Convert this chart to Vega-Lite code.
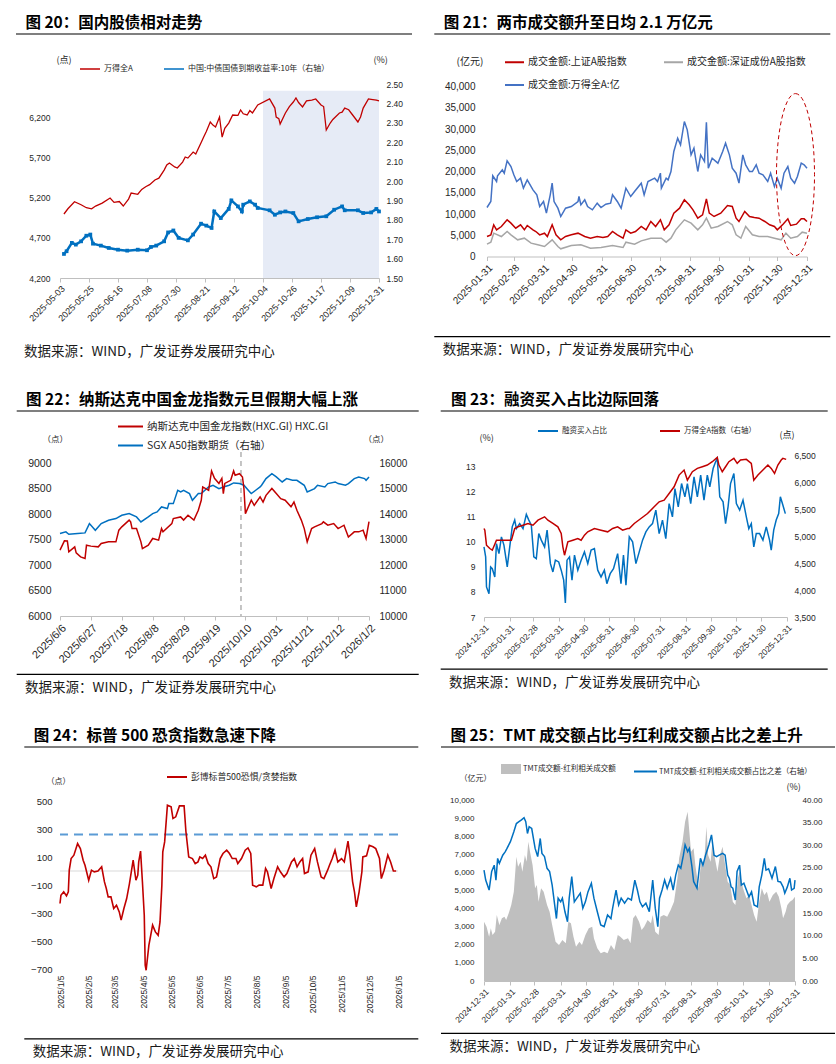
{
"$schema":"https://vega.github.io/schema/vega-lite/v6.json",
"background":"white",
"padding":{"left":15,"top":15,"right":4,"bottom":2},
"config":{
 "view":{"stroke":null},
 "font":"Liberation Sans, Noto Sans CJK SC",
 "axis":{"grid":false,"labelOverlap":false,"tickCount":30,"labelColor":"#262626","labelFont":"Liberation Sans, Noto Sans CJK SC","domainColor":"#BFBFBF","tickColor":"#BFBFBF","titleFont":"Noto Sans CJK SC","titleFontWeight":"normal","titleColor":"#262626"},
 "legend":{"labelFont":"Noto Sans CJK SC","labelColor":"#262626","padding":0,"orient":"none","title":null,"labelLimit":400},
 "title":{"font":"Noto Sans CJK SC","color":"#000000"}
},
"datasets":{
 "p20a":[{"d":"2025-05-06","v":4995},{"d":"2025-05-09","v":5060},{"d":"2025-05-14","v":5148},{"d":"2025-05-19","v":5110},{"d":"2025-05-23","v":5073},{"d":"2025-05-27","v":5060},{"d":"2025-05-30","v":5094},{"d":"2025-06-04","v":5130},{"d":"2025-06-10","v":5194},{"d":"2025-06-13","v":5140},{"d":"2025-06-17","v":5150},{"d":"2025-06-20","v":5094},{"d":"2025-06-24","v":5180},{"d":"2025-06-26","v":5256},{"d":"2025-07-01","v":5240},{"d":"2025-07-04","v":5300},{"d":"2025-07-07","v":5334},{"d":"2025-07-10","v":5360},{"d":"2025-07-14","v":5417},{"d":"2025-07-17","v":5440},{"d":"2025-07-21","v":5541},{"d":"2025-07-23","v":5604},{"d":"2025-07-25","v":5628},{"d":"2025-07-29","v":5580},{"d":"2025-07-31","v":5566},{"d":"2025-08-04","v":5640},{"d":"2025-08-06","v":5703},{"d":"2025-08-08","v":5690},{"d":"2025-08-12","v":5765},{"d":"2025-08-14","v":5740},{"d":"2025-08-18","v":5880},{"d":"2025-08-20","v":5951},{"d":"2025-08-22","v":6020},{"d":"2025-08-25","v":6138},{"d":"2025-08-27","v":6100},{"d":"2025-08-29","v":6076},{"d":"2025-09-01","v":6200},{"d":"2025-09-03","v":5951},{"d":"2025-09-05","v":6060},{"d":"2025-09-08","v":6125},{"d":"2025-09-11","v":6225},{"d":"2025-09-15","v":6220},{"d":"2025-09-17","v":6287},{"d":"2025-09-19","v":6240},{"d":"2025-09-22","v":6225},{"d":"2025-09-24","v":6280},{"d":"2025-09-26","v":6250},{"d":"2025-09-30","v":6349},{"d":"2025-10-09","v":6424},{"d":"2025-10-13","v":6311},{"d":"2025-10-14","v":6200},{"d":"2025-10-16","v":6180},{"d":"2025-10-17","v":6113},{"d":"2025-10-21","v":6250},{"d":"2025-10-24","v":6330},{"d":"2025-10-27","v":6386},{"d":"2025-10-29","v":6436},{"d":"2025-10-31","v":6380},{"d":"2025-11-03","v":6325},{"d":"2025-11-06","v":6400},{"d":"2025-11-10","v":6411},{"d":"2025-11-13","v":6424},{"d":"2025-11-17","v":6349},{"d":"2025-11-19","v":6330},{"d":"2025-11-21","v":6038},{"d":"2025-11-24","v":6125},{"d":"2025-11-26","v":6170},{"d":"2025-12-01","v":6250},{"d":"2025-12-03","v":6260},{"d":"2025-12-05","v":6311},{"d":"2025-12-08","v":6290},{"d":"2025-12-11","v":6225},{"d":"2025-12-15","v":6138},{"d":"2025-12-17","v":6200},{"d":"2025-12-19","v":6311},{"d":"2025-12-23","v":6424},{"d":"2025-12-25","v":6420},{"d":"2025-12-29","v":6411},{"d":"2025-12-31","v":6400}],
 "p20b":[{"d":"2025-05-06","v":1.624},{"d":"2025-05-08","v":1.638},{"d":"2025-05-12","v":1.681},{"d":"2025-05-15","v":1.672},{"d":"2025-05-19","v":1.689},{"d":"2025-05-23","v":1.718},{"d":"2025-05-26","v":1.724},{"d":"2025-05-28","v":1.677},{"d":"2025-06-03","v":1.667},{"d":"2025-06-09","v":1.655},{"d":"2025-06-16","v":1.646},{"d":"2025-06-23","v":1.641},{"d":"2025-07-01","v":1.646},{"d":"2025-07-08","v":1.643},{"d":"2025-07-11","v":1.66},{"d":"2025-07-15","v":1.667},{"d":"2025-07-21","v":1.689},{"d":"2025-07-24","v":1.735},{"d":"2025-07-28","v":1.745},{"d":"2025-08-01","v":1.707},{"d":"2025-08-08","v":1.694},{"d":"2025-08-12","v":1.724},{"d":"2025-08-18","v":1.78},{"d":"2025-08-22","v":1.77},{"d":"2025-08-26","v":1.758},{"d":"2025-08-28","v":1.843},{"d":"2025-09-02","v":1.809},{"d":"2025-09-08","v":1.856},{"d":"2025-09-10","v":1.9},{"d":"2025-09-15","v":1.869},{"d":"2025-09-18","v":1.843},{"d":"2025-09-19","v":1.878},{"d":"2025-09-24","v":1.895},{"d":"2025-09-28","v":1.878},{"d":"2025-09-30","v":1.861},{"d":"2025-10-09","v":1.849},{"d":"2025-10-13","v":1.826},{"d":"2025-10-17","v":1.838},{"d":"2025-10-21","v":1.843},{"d":"2025-10-27","v":1.835},{"d":"2025-10-31","v":1.792},{"d":"2025-11-07","v":1.804},{"d":"2025-11-14","v":1.813},{"d":"2025-11-21","v":1.818},{"d":"2025-11-27","v":1.852},{"d":"2025-12-03","v":1.869},{"d":"2025-12-05","v":1.849},{"d":"2025-12-15","v":1.849},{"d":"2025-12-19","v":1.835},{"d":"2025-12-25","v":1.838},{"d":"2025-12-29","v":1.856},{"d":"2025-12-31","v":1.843}],
 "p21b":[{"d":"2025-01-31","v":11529},{"d":"2025-02-04","v":12941},{"d":"2025-02-06","v":19000},{"d":"2025-02-10","v":17647},{"d":"2025-02-11","v":19000},{"d":"2025-02-16","v":20390},{"d":"2025-02-18","v":19600},{"d":"2025-02-21","v":22500},{"d":"2025-02-25","v":21170},{"d":"2025-02-28","v":19215},{"d":"2025-03-03","v":17647},{"d":"2025-03-07","v":18430},{"d":"2025-03-10","v":16078},{"d":"2025-03-14","v":18040},{"d":"2025-03-20","v":15686},{"d":"2025-03-24","v":14510},{"d":"2025-03-27","v":11765},{"d":"2025-03-31","v":12941},{"d":"2025-04-03","v":10196},{"d":"2025-04-07","v":14510},{"d":"2025-04-09","v":17255},{"d":"2025-04-11","v":12941},{"d":"2025-04-15","v":11373},{"d":"2025-04-18","v":9412},{"d":"2025-04-23","v":11373},{"d":"2025-04-29","v":11765},{"d":"2025-05-06","v":12941},{"d":"2025-05-07","v":14118},{"d":"2025-05-09","v":12157},{"d":"2025-05-13","v":13333},{"d":"2025-05-16","v":11765},{"d":"2025-05-21","v":10980},{"d":"2025-05-26","v":12549},{"d":"2025-05-30","v":11529},{"d":"2025-06-04","v":12313},{"d":"2025-06-09","v":12549},{"d":"2025-06-11","v":14510},{"d":"2025-06-16","v":12941},{"d":"2025-06-20","v":11373},{"d":"2025-06-25","v":16078},{"d":"2025-06-30","v":14118},{"d":"2025-07-04","v":15294},{"d":"2025-07-11","v":17255},{"d":"2025-07-14","v":14510},{"d":"2025-07-18","v":17647},{"d":"2025-07-25","v":18431},{"d":"2025-07-28","v":17647},{"d":"2025-07-31","v":19607},{"d":"2025-08-01","v":16078},{"d":"2025-08-06","v":18431},{"d":"2025-08-08","v":18039},{"d":"2025-08-11","v":20000},{"d":"2025-08-14","v":24706},{"d":"2025-08-18","v":27843},{"d":"2025-08-21","v":26274},{"d":"2025-08-25","v":31765},{"d":"2025-08-28","v":29804},{"d":"2025-09-01","v":23921},{"d":"2025-09-04","v":25490},{"d":"2025-09-08","v":20000},{"d":"2025-09-11","v":23921},{"d":"2025-09-15","v":22353},{"d":"2025-09-17","v":31608},{"d":"2025-09-19","v":20784},{"d":"2025-09-23","v":23137},{"d":"2025-09-29","v":21961},{"d":"2025-10-04","v":24706},{"d":"2025-10-07","v":26667},{"d":"2025-10-11","v":23921},{"d":"2025-10-14","v":20784},{"d":"2025-10-18","v":19600},{"d":"2025-10-21","v":17255},{"d":"2025-10-25","v":23921},{"d":"2025-10-28","v":21569},{"d":"2025-11-01","v":20000},{"d":"2025-11-04","v":20000},{"d":"2025-11-08","v":21569},{"d":"2025-11-11","v":19608},{"d":"2025-11-15","v":19215},{"d":"2025-11-20","v":17647},{"d":"2025-11-23","v":19608},{"d":"2025-11-27","v":16471},{"d":"2025-11-30","v":18431},{"d":"2025-12-04","v":16078},{"d":"2025-12-07","v":19608},{"d":"2025-12-11","v":21176},{"d":"2025-12-14","v":18431},{"d":"2025-12-18","v":17255},{"d":"2025-12-21","v":18823},{"d":"2025-12-25","v":21961},{"d":"2025-12-28","v":21569},{"d":"2025-12-31","v":20784}],
 "p21r":[{"d":"2025-01-31","v":4706},{"d":"2025-02-04","v":5098},{"d":"2025-02-07","v":7451},{"d":"2025-02-10","v":6275},{"d":"2025-02-15","v":7059},{"d":"2025-02-21","v":8627},{"d":"2025-02-25","v":7843},{"d":"2025-03-02","v":6667},{"d":"2025-03-07","v":7451},{"d":"2025-03-11","v":6275},{"d":"2025-03-14","v":7294},{"d":"2025-03-20","v":6275},{"d":"2025-03-23","v":5882},{"d":"2025-03-27","v":5098},{"d":"2025-04-01","v":5490},{"d":"2025-04-04","v":4706},{"d":"2025-04-09","v":7451},{"d":"2025-04-13","v":5098},{"d":"2025-04-18","v":3921},{"d":"2025-04-23","v":4706},{"d":"2025-04-29","v":5098},{"d":"2025-05-06","v":5490},{"d":"2025-05-13","v":4706},{"d":"2025-05-19","v":4314},{"d":"2025-05-26","v":4706},{"d":"2025-06-01","v":4470},{"d":"2025-06-06","v":4706},{"d":"2025-06-11","v":5882},{"d":"2025-06-16","v":5098},{"d":"2025-06-22","v":4314},{"d":"2025-06-25","v":6275},{"d":"2025-06-30","v":5490},{"d":"2025-07-05","v":5882},{"d":"2025-07-11","v":7059},{"d":"2025-07-16","v":6275},{"d":"2025-07-21","v":8235},{"d":"2025-07-26","v":7059},{"d":"2025-07-31","v":8627},{"d":"2025-08-04","v":6275},{"d":"2025-08-09","v":7451},{"d":"2025-08-14","v":10196},{"d":"2025-08-20","v":11373},{"d":"2025-08-25","v":13333},{"d":"2025-08-30","v":12157},{"d":"2025-09-03","v":10980},{"d":"2025-09-08","v":9020},{"d":"2025-09-13","v":9804},{"d":"2025-09-17","v":13569},{"d":"2025-09-20","v":10196},{"d":"2025-09-25","v":9412},{"d":"2025-10-02","v":10196},{"d":"2025-10-09","v":12000},{"d":"2025-10-14","v":11765},{"d":"2025-10-18","v":9020},{"d":"2025-10-21","v":8235},{"d":"2025-10-27","v":10588},{"d":"2025-11-01","v":9412},{"d":"2025-11-06","v":9176},{"d":"2025-11-11","v":9020},{"d":"2025-11-17","v":8235},{"d":"2025-11-22","v":7451},{"d":"2025-11-27","v":7059},{"d":"2025-11-30","v":6275},{"d":"2025-12-06","v":7608},{"d":"2025-12-11","v":8863},{"d":"2025-12-14","v":7294},{"d":"2025-12-20","v":7608},{"d":"2025-12-25","v":8863},{"d":"2025-12-28","v":8863},{"d":"2025-12-31","v":8235}],
 "p21g":[{"d":"2025-01-31","v":2902},{"d":"2025-02-04","v":3372},{"d":"2025-02-07","v":5490},{"d":"2025-02-15","v":4706},{"d":"2025-02-21","v":5882},{"d":"2025-02-25","v":5098},{"d":"2025-03-04","v":3921},{"d":"2025-03-11","v":4314},{"d":"2025-03-18","v":3137},{"d":"2025-03-25","v":2745},{"d":"2025-04-01","v":2353},{"d":"2025-04-09","v":3921},{"d":"2025-04-15","v":2353},{"d":"2025-04-18","v":1804},{"d":"2025-04-29","v":2588},{"d":"2025-05-09","v":2745},{"d":"2025-05-19","v":1961},{"d":"2025-05-30","v":2118},{"d":"2025-06-11","v":2588},{"d":"2025-06-22","v":2118},{"d":"2025-06-25","v":3372},{"d":"2025-07-04","v":2902},{"d":"2025-07-11","v":3686},{"d":"2025-07-21","v":4314},{"d":"2025-08-01","v":4314},{"d":"2025-08-06","v":3372},{"d":"2025-08-11","v":4314},{"d":"2025-08-16","v":6275},{"d":"2025-08-25","v":8627},{"d":"2025-09-01","v":7843},{"d":"2025-09-08","v":6275},{"d":"2025-09-13","v":7451},{"d":"2025-09-17","v":9020},{"d":"2025-09-22","v":6667},{"d":"2025-09-29","v":7059},{"d":"2025-10-09","v":8235},{"d":"2025-10-14","v":7451},{"d":"2025-10-18","v":5098},{"d":"2025-10-23","v":4314},{"d":"2025-10-28","v":7059},{"d":"2025-11-04","v":5098},{"d":"2025-11-11","v":4706},{"d":"2025-11-20","v":4706},{"d":"2025-11-27","v":4314},{"d":"2025-12-04","v":3921},{"d":"2025-12-09","v":5490},{"d":"2025-12-14","v":4314},{"d":"2025-12-21","v":4706},{"d":"2025-12-26","v":5725},{"d":"2025-12-31","v":5490}],
 "p22r":[{"d":"2025-06-06","v":7292},{"d":"2025-06-09","v":7474},{"d":"2025-06-11","v":7470},{"d":"2025-06-12","v":7258},{"d":"2025-06-16","v":7356},{"d":"2025-06-17","v":7238},{"d":"2025-06-20","v":7160},{"d":"2025-06-23","v":7127},{"d":"2025-06-24","v":7389},{"d":"2025-06-27","v":7370},{"d":"2025-07-02","v":7356},{"d":"2025-07-04","v":7422},{"d":"2025-07-09","v":7454},{"d":"2025-07-14","v":7454},{"d":"2025-07-16","v":7683},{"d":"2025-07-18","v":7748},{"d":"2025-07-23","v":7879},{"d":"2025-07-24","v":7846},{"d":"2025-07-25","v":7714},{"d":"2025-07-28","v":7715},{"d":"2025-07-31","v":7454},{"d":"2025-08-01","v":7323},{"d":"2025-08-05","v":7389},{"d":"2025-08-08","v":7520},{"d":"2025-08-12","v":7487},{"d":"2025-08-14","v":7714},{"d":"2025-08-15","v":7650},{"d":"2025-08-21","v":7812},{"d":"2025-08-22","v":7910},{"d":"2025-08-27","v":7943},{"d":"2025-08-29","v":7880},{"d":"2025-09-01","v":7976},{"d":"2025-09-05","v":7880},{"d":"2025-09-08","v":8074},{"d":"2025-09-10","v":8270},{"d":"2025-09-11","v":8530},{"d":"2025-09-15","v":8465},{"d":"2025-09-17","v":8843},{"d":"2025-09-19","v":8700},{"d":"2025-09-22","v":8600},{"d":"2025-09-24","v":8700},{"d":"2025-09-25","v":8400},{"d":"2025-09-26","v":8600},{"d":"2025-09-30","v":8660},{"d":"2025-10-02","v":8843},{"d":"2025-10-03","v":8760},{"d":"2025-10-06","v":8790},{"d":"2025-10-08","v":8725},{"d":"2025-10-09","v":8500},{"d":"2025-10-10","v":8008},{"d":"2025-10-14","v":8270},{"d":"2025-10-16","v":8170},{"d":"2025-10-20","v":8335},{"d":"2025-10-22","v":8235},{"d":"2025-10-24","v":8365},{"d":"2025-10-28","v":8500},{"d":"2025-10-31","v":8400},{"d":"2025-11-03","v":8300},{"d":"2025-11-06","v":8270},{"d":"2025-11-10","v":8140},{"d":"2025-11-12","v":8235},{"d":"2025-11-14","v":8074},{"d":"2025-11-17","v":7880},{"d":"2025-11-19","v":7714},{"d":"2025-11-21","v":7454},{"d":"2025-11-24","v":7715},{"d":"2025-11-26","v":7747},{"d":"2025-12-01","v":7812},{"d":"2025-12-02","v":7846},{"d":"2025-12-05","v":7780},{"d":"2025-12-09","v":7812},{"d":"2025-12-12","v":7714},{"d":"2025-12-16","v":7780},{"d":"2025-12-19","v":7550},{"d":"2025-12-23","v":7650},{"d":"2025-12-26","v":7650},{"d":"2025-12-29","v":7683},{"d":"2025-12-31","v":7520},{"d":"2026-01-02","v":7850}],
 "p22b":[{"d":"2025-06-06","v":13233},{"d":"2025-06-10","v":13298},{"d":"2025-06-12","v":13206},{"d":"2025-06-18","v":13233},{"d":"2025-06-23","v":13259},{"d":"2025-06-26","v":13624},{"d":"2025-06-30","v":13363},{"d":"2025-07-04","v":13624},{"d":"2025-07-09","v":13755},{"d":"2025-07-14","v":13820},{"d":"2025-07-18","v":13950},{"d":"2025-07-23","v":14016},{"d":"2025-07-28","v":13885},{"d":"2025-07-31","v":13690},{"d":"2025-08-05","v":13885},{"d":"2025-08-08","v":14016},{"d":"2025-08-11","v":14081},{"d":"2025-08-14","v":14277},{"d":"2025-08-18","v":14212},{"d":"2025-08-19","v":14407},{"d":"2025-08-22","v":14407},{"d":"2025-08-25","v":14931},{"d":"2025-08-27","v":14866},{"d":"2025-08-29","v":14931},{"d":"2025-09-02","v":14800},{"d":"2025-09-04","v":14538},{"d":"2025-09-08","v":14800},{"d":"2025-09-10","v":14800},{"d":"2025-09-15","v":15060},{"d":"2025-09-18","v":15127},{"d":"2025-09-22","v":14996},{"d":"2025-09-25","v":15060},{"d":"2025-09-29","v":15127},{"d":"2025-10-02","v":15218},{"d":"2025-10-06","v":15192},{"d":"2025-10-09","v":15127},{"d":"2025-10-13","v":14866},{"d":"2025-10-14","v":14800},{"d":"2025-10-17","v":14931},{"d":"2025-10-20","v":15060},{"d":"2025-10-21","v":15127},{"d":"2025-10-24","v":15388},{"d":"2025-10-28","v":15584},{"d":"2025-10-31","v":15453},{"d":"2025-11-04","v":15257},{"d":"2025-11-07","v":15388},{"d":"2025-11-11","v":15323},{"d":"2025-11-14","v":15323},{"d":"2025-11-19","v":15127},{"d":"2025-11-21","v":14866},{"d":"2025-11-26","v":14996},{"d":"2025-11-28","v":15127},{"d":"2025-12-03","v":15060},{"d":"2025-12-05","v":15192},{"d":"2025-12-10","v":15257},{"d":"2025-12-12","v":15192},{"d":"2025-12-17","v":15127},{"d":"2025-12-19","v":15192},{"d":"2025-12-23","v":15388},{"d":"2025-12-26","v":15453},{"d":"2025-12-30","v":15388},{"d":"2025-12-31","v":15323},{"d":"2026-01-02","v":15453}],
 "p23b":[{"d":"2024-12-31","v":9.8},{"d":"2025-01-02","v":9.4},{"d":"2025-01-03","v":8.2},{"d":"2025-01-06","v":7.93},{"d":"2025-01-08","v":9.0},{"d":"2025-01-10","v":8.93},{"d":"2025-01-13","v":8.6},{"d":"2025-01-15","v":9.93},{"d":"2025-01-18","v":9.53},{"d":"2025-01-21","v":10.2},{"d":"2025-01-24","v":9.87},{"d":"2025-01-28","v":9.0},{"d":"2025-01-31","v":9.8},{"d":"2025-02-03","v":10.6},{"d":"2025-02-06","v":10.87},{"d":"2025-02-08","v":10.53},{"d":"2025-02-12","v":10.73},{"d":"2025-02-16","v":10.53},{"d":"2025-02-20","v":11.1},{"d":"2025-02-23","v":10.87},{"d":"2025-02-26","v":10.67},{"d":"2025-03-01","v":9.4},{"d":"2025-03-04","v":9.33},{"d":"2025-03-07","v":10.33},{"d":"2025-03-10","v":10.07},{"d":"2025-03-14","v":9.8},{"d":"2025-03-17","v":10.47},{"d":"2025-03-21","v":9.13},{"d":"2025-03-24","v":8.8},{"d":"2025-03-27","v":9.27},{"d":"2025-03-31","v":9.2},{"d":"2025-04-03","v":8.87},{"d":"2025-04-06","v":8.47},{"d":"2025-04-08","v":7.56},{"d":"2025-04-10","v":9.27},{"d":"2025-04-13","v":9.4},{"d":"2025-04-16","v":8.47},{"d":"2025-04-19","v":9.47},{"d":"2025-04-23","v":8.87},{"d":"2025-04-27","v":9.27},{"d":"2025-05-01","v":9.6},{"d":"2025-05-05","v":9.13},{"d":"2025-05-09","v":9.67},{"d":"2025-05-13","v":9.73},{"d":"2025-05-17","v":8.87},{"d":"2025-05-21","v":8.6},{"d":"2025-05-25","v":8.87},{"d":"2025-05-28","v":8.33},{"d":"2025-06-01","v":8.73},{"d":"2025-06-05","v":8.93},{"d":"2025-06-10","v":9.53},{"d":"2025-06-14","v":8.33},{"d":"2025-06-17","v":9.47},{"d":"2025-06-20","v":8.27},{"d":"2025-06-24","v":10.2},{"d":"2025-06-28","v":10.0},{"d":"2025-07-02","v":9.13},{"d":"2025-07-06","v":9.6},{"d":"2025-07-10","v":10.07},{"d":"2025-07-14","v":10.4},{"d":"2025-07-18","v":10.6},{"d":"2025-07-22","v":10.73},{"d":"2025-07-26","v":11.27},{"d":"2025-07-30","v":10.33},{"d":"2025-08-03","v":10.87},{"d":"2025-08-07","v":10.13},{"d":"2025-08-11","v":11.53},{"d":"2025-08-15","v":11.0},{"d":"2025-08-18","v":12.13},{"d":"2025-08-22","v":11.4},{"d":"2025-08-26","v":12.33},{"d":"2025-08-30","v":11.8},{"d":"2025-09-02","v":12.33},{"d":"2025-09-06","v":11.53},{"d":"2025-09-10","v":12.6},{"d":"2025-09-14","v":11.8},{"d":"2025-09-18","v":12.67},{"d":"2025-09-22","v":11.67},{"d":"2025-09-26","v":12.67},{"d":"2025-09-29","v":12.2},{"d":"2025-10-03","v":12.93},{"d":"2025-10-06","v":13.2},{"d":"2025-10-08","v":13.33},{"d":"2025-10-11","v":11.8},{"d":"2025-10-15","v":11.6},{"d":"2025-10-18","v":10.73},{"d":"2025-10-21","v":11.4},{"d":"2025-10-24","v":12.33},{"d":"2025-10-28","v":12.73},{"d":"2025-10-31","v":11.53},{"d":"2025-11-04","v":11.27},{"d":"2025-11-08","v":11.67},{"d":"2025-11-12","v":11.0},{"d":"2025-11-15","v":10.53},{"d":"2025-11-18","v":10.73},{"d":"2025-11-21","v":9.8},{"d":"2025-11-24","v":10.33},{"d":"2025-11-28","v":10.33},{"d":"2025-12-02","v":10.07},{"d":"2025-12-06","v":10.6},{"d":"2025-12-10","v":10.07},{"d":"2025-12-12","v":9.67},{"d":"2025-12-15","v":10.47},{"d":"2025-12-18","v":10.87},{"d":"2025-12-21","v":11.13},{"d":"2025-12-23","v":11.8},{"d":"2025-12-26","v":11.47},{"d":"2025-12-29","v":11.13}],
 "p23r":[{"d":"2024-12-31","v":5139},{"d":"2025-01-01","v":5108},{"d":"2025-01-03","v":4830},{"d":"2025-01-07","v":4768},{"d":"2025-01-10","v":4737},{"d":"2025-01-15","v":4922},{"d":"2025-01-21","v":4922},{"d":"2025-01-27","v":4922},{"d":"2025-02-02","v":4922},{"d":"2025-02-06","v":5139},{"d":"2025-02-10","v":5170},{"d":"2025-02-16","v":5200},{"d":"2025-02-22","v":5232},{"d":"2025-02-28","v":5200},{"d":"2025-03-06","v":5293},{"d":"2025-03-14","v":5355},{"d":"2025-03-18","v":5293},{"d":"2025-03-24","v":5232},{"d":"2025-03-30","v":5170},{"d":"2025-04-03","v":5046},{"d":"2025-04-05","v":4799},{"d":"2025-04-07","v":4644},{"d":"2025-04-11","v":4891},{"d":"2025-04-17","v":4922},{"d":"2025-04-23","v":4953},{"d":"2025-04-27","v":4922},{"d":"2025-05-01","v":5015},{"d":"2025-05-05","v":5077},{"d":"2025-05-13","v":5139},{"d":"2025-05-21","v":5108},{"d":"2025-05-29","v":5077},{"d":"2025-06-04","v":5139},{"d":"2025-06-10","v":5170},{"d":"2025-06-16","v":5108},{"d":"2025-06-22","v":5139},{"d":"2025-06-24","v":5139},{"d":"2025-06-30","v":5232},{"d":"2025-07-08","v":5324},{"d":"2025-07-16","v":5417},{"d":"2025-07-24","v":5541},{"d":"2025-07-30","v":5633},{"d":"2025-08-05","v":5665},{"d":"2025-08-11","v":5788},{"d":"2025-08-17","v":5912},{"d":"2025-08-23","v":6128},{"d":"2025-08-29","v":6221},{"d":"2025-09-02","v":6035},{"d":"2025-09-08","v":6190},{"d":"2025-09-14","v":6252},{"d":"2025-09-20","v":6283},{"d":"2025-09-26","v":6314},{"d":"2025-10-02","v":6376},{"d":"2025-10-08","v":6456},{"d":"2025-10-10","v":6314},{"d":"2025-10-14","v":6190},{"d":"2025-10-18","v":6283},{"d":"2025-10-22","v":6376},{"d":"2025-10-28","v":6437},{"d":"2025-11-01","v":6345},{"d":"2025-11-05","v":6407},{"d":"2025-11-12","v":6419},{"d":"2025-11-18","v":6345},{"d":"2025-11-21","v":6035},{"d":"2025-11-26","v":6128},{"d":"2025-12-02","v":6221},{"d":"2025-12-08","v":6314},{"d":"2025-12-12","v":6252},{"d":"2025-12-16","v":6159},{"d":"2025-12-20","v":6314},{"d":"2025-12-24","v":6407},{"d":"2025-12-26","v":6437},{"d":"2025-12-30","v":6419}],
 "p24":[{"d":"2025-01-05","v":-232},{"d":"2025-01-06","v":-173},{"d":"2025-01-09","v":-149},{"d":"2025-01-12","v":-178},{"d":"2025-01-14","v":-149},{"d":"2025-01-15","v":6},{"d":"2025-01-17","v":89},{"d":"2025-01-20","v":113},{"d":"2025-01-24","v":196},{"d":"2025-01-27","v":160},{"d":"2025-01-30","v":77},{"d":"2025-02-01","v":41},{"d":"2025-02-05","v":-66},{"d":"2025-02-08","v":6},{"d":"2025-02-11","v":-6},{"d":"2025-02-15","v":-1},{"d":"2025-02-19","v":30},{"d":"2025-02-22","v":-78},{"d":"2025-02-24","v":-125},{"d":"2025-02-26","v":-185},{"d":"2025-03-01","v":-185},{"d":"2025-03-04","v":-268},{"d":"2025-03-07","v":-244},{"d":"2025-03-10","v":-292},{"d":"2025-03-12","v":-351},{"d":"2025-03-15","v":-268},{"d":"2025-03-18","v":-197},{"d":"2025-03-21","v":-90},{"d":"2025-03-23","v":-6},{"d":"2025-03-25","v":77},{"d":"2025-03-28","v":-66},{"d":"2025-03-30","v":-30},{"d":"2025-03-31","v":65},{"d":"2025-04-02","v":142},{"d":"2025-04-04","v":-77},{"d":"2025-04-06","v":-316},{"d":"2025-04-07","v":-673},{"d":"2025-04-08","v":-709},{"d":"2025-04-11","v":-530},{"d":"2025-04-15","v":-387},{"d":"2025-04-18","v":-435},{"d":"2025-04-21","v":-459},{"d":"2025-04-23","v":-364},{"d":"2025-04-25","v":-101},{"d":"2025-04-26","v":137},{"d":"2025-04-28","v":208},{"d":"2025-05-01","v":470},{"d":"2025-05-05","v":458},{"d":"2025-05-07","v":375},{"d":"2025-05-10","v":387},{"d":"2025-05-14","v":465},{"d":"2025-05-19","v":465},{"d":"2025-05-21","v":280},{"d":"2025-05-24","v":101},{"d":"2025-05-28","v":89},{"d":"2025-05-31","v":53},{"d":"2025-06-03","v":65},{"d":"2025-06-05","v":101},{"d":"2025-06-08","v":89},{"d":"2025-06-11","v":113},{"d":"2025-06-14","v":53},{"d":"2025-06-17","v":30},{"d":"2025-06-20","v":-54},{"d":"2025-06-23","v":-42},{"d":"2025-06-27","v":89},{"d":"2025-06-30","v":125},{"d":"2025-07-04","v":149},{"d":"2025-07-07","v":125},{"d":"2025-07-10","v":89},{"d":"2025-07-14","v":89},{"d":"2025-07-16","v":53},{"d":"2025-07-20","v":89},{"d":"2025-07-24","v":149},{"d":"2025-07-27","v":165},{"d":"2025-07-30","v":125},{"d":"2025-08-01","v":-101},{"d":"2025-08-05","v":-113},{"d":"2025-08-08","v":-101},{"d":"2025-08-12","v":-101},{"d":"2025-08-15","v":18},{"d":"2025-08-17","v":-6},{"d":"2025-08-21","v":-125},{"d":"2025-08-24","v":-54},{"d":"2025-08-28","v":30},{"d":"2025-08-31","v":-6},{"d":"2025-09-04","v":-42},{"d":"2025-09-07","v":-18},{"d":"2025-09-12","v":65},{"d":"2025-09-15","v":89},{"d":"2025-09-18","v":30},{"d":"2025-09-21","v":65},{"d":"2025-09-24","v":89},{"d":"2025-09-26","v":-18},{"d":"2025-09-30","v":-6},{"d":"2025-10-03","v":113},{"d":"2025-10-07","v":160},{"d":"2025-10-10","v":65},{"d":"2025-10-14","v":-42},{"d":"2025-10-17","v":-54},{"d":"2025-10-21","v":6},{"d":"2025-10-23","v":41},{"d":"2025-10-26","v":89},{"d":"2025-10-29","v":149},{"d":"2025-11-01","v":65},{"d":"2025-11-05","v":89},{"d":"2025-11-08","v":65},{"d":"2025-11-12","v":213},{"d":"2025-11-14","v":113},{"d":"2025-11-17","v":-77},{"d":"2025-11-19","v":-149},{"d":"2025-11-21","v":-256},{"d":"2025-11-24","v":-149},{"d":"2025-11-27","v":-6},{"d":"2025-11-28","v":101},{"d":"2025-12-02","v":108},{"d":"2025-12-05","v":184},{"d":"2025-12-09","v":173},{"d":"2025-12-12","v":160},{"d":"2025-12-16","v":89},{"d":"2025-12-18","v":-54},{"d":"2025-12-21","v":6},{"d":"2025-12-25","v":113},{"d":"2025-12-28","v":65},{"d":"2025-12-31","v":0},{"d":"2026-01-03","v":0}],
 "p25a":[{"d":"2024-12-31","v":3279},{"d":"2025-01-03","v":3002},{"d":"2025-01-06","v":2450},{"d":"2025-01-08","v":2910},{"d":"2025-01-10","v":2542},{"d":"2025-01-13","v":2726},{"d":"2025-01-15","v":3647},{"d":"2025-01-18","v":3095},{"d":"2025-01-21","v":3463},{"d":"2025-01-24","v":3555},{"d":"2025-01-26","v":3371},{"d":"2025-01-29","v":3739},{"d":"2025-02-01","v":4200},{"d":"2025-02-04","v":4937},{"d":"2025-02-07","v":6871},{"d":"2025-02-09","v":6318},{"d":"2025-02-12","v":6594},{"d":"2025-02-14","v":6042},{"d":"2025-02-17","v":6963},{"d":"2025-02-19","v":6594},{"d":"2025-02-21","v":7700},{"d":"2025-02-23","v":7147},{"d":"2025-02-26","v":6410},{"d":"2025-03-01","v":5121},{"d":"2025-03-03","v":5305},{"d":"2025-03-05","v":4384},{"d":"2025-03-08","v":5121},{"d":"2025-03-11","v":4937},{"d":"2025-03-15","v":4200},{"d":"2025-03-18","v":3831},{"d":"2025-03-21","v":3095},{"d":"2025-03-25","v":2174},{"d":"2025-03-29","v":1989},{"d":"2025-04-02","v":2266},{"d":"2025-04-06","v":2082},{"d":"2025-04-09","v":3279},{"d":"2025-04-12","v":3187},{"d":"2025-04-15","v":2450},{"d":"2025-04-18","v":1897},{"d":"2025-04-22","v":2174},{"d":"2025-04-25","v":1989},{"d":"2025-04-29","v":2542},{"d":"2025-05-03","v":2910},{"d":"2025-05-07","v":3002},{"d":"2025-05-09","v":2358},{"d":"2025-05-13","v":1805},{"d":"2025-05-17","v":1529},{"d":"2025-05-21","v":1621},{"d":"2025-05-25","v":1529},{"d":"2025-05-29","v":1989},{"d":"2025-06-02","v":1713},{"d":"2025-06-06","v":2542},{"d":"2025-06-09","v":2450},{"d":"2025-06-13","v":2266},{"d":"2025-06-18","v":2358},{"d":"2025-06-21","v":2082},{"d":"2025-06-24","v":3463},{"d":"2025-06-27","v":3647},{"d":"2025-07-01","v":3279},{"d":"2025-07-04","v":2818},{"d":"2025-07-07","v":3002},{"d":"2025-07-11","v":3371},{"d":"2025-07-15","v":3187},{"d":"2025-07-17","v":3647},{"d":"2025-07-20","v":2726},{"d":"2025-07-24","v":2542},{"d":"2025-07-26","v":3555},{"d":"2025-07-30","v":3647},{"d":"2025-08-03","v":3555},{"d":"2025-08-07","v":3923},{"d":"2025-08-11","v":4384},{"d":"2025-08-15","v":5674},{"d":"2025-08-17","v":6779},{"d":"2025-08-21","v":7700},{"d":"2025-08-24","v":8805},{"d":"2025-08-27","v":9357},{"d":"2025-08-29","v":8252},{"d":"2025-08-31","v":7147},{"d":"2025-09-03","v":7331},{"d":"2025-09-05","v":6410},{"d":"2025-09-09","v":5121},{"d":"2025-09-12","v":6779},{"d":"2025-09-15","v":6226},{"d":"2025-09-18","v":8529},{"d":"2025-09-20","v":6963},{"d":"2025-09-23","v":6594},{"d":"2025-09-25","v":7700},{"d":"2025-09-28","v":6779},{"d":"2025-10-01","v":6042},{"d":"2025-10-04","v":6963},{"d":"2025-10-07","v":7423},{"d":"2025-10-10","v":6410},{"d":"2025-10-13","v":5489},{"d":"2025-10-16","v":5305},{"d":"2025-10-19","v":4384},{"d":"2025-10-22","v":4200},{"d":"2025-10-25","v":5674},{"d":"2025-10-27","v":6042},{"d":"2025-10-31","v":5121},{"d":"2025-11-04","v":4568},{"d":"2025-11-07","v":4753},{"d":"2025-11-10","v":4200},{"d":"2025-11-13","v":3647},{"d":"2025-11-16","v":3279},{"d":"2025-11-19","v":4384},{"d":"2025-11-22","v":5121},{"d":"2025-11-25","v":4753},{"d":"2025-11-28","v":4937},{"d":"2025-12-01","v":4384},{"d":"2025-12-05","v":4753},{"d":"2025-12-09","v":4937},{"d":"2025-12-12","v":4661},{"d":"2025-12-15","v":4016},{"d":"2025-12-17","v":3463},{"d":"2025-12-20","v":3831},{"d":"2025-12-22","v":4200},{"d":"2025-12-25","v":4384},{"d":"2025-12-28","v":4477},{"d":"2025-12-31","v":4661}],
 "p25b":[{"d":"2024-12-31","v":24.5},{"d":"2025-01-02","v":22.3},{"d":"2025-01-06","v":20.1},{"d":"2025-01-09","v":24.2},{"d":"2025-01-12","v":25.6},{"d":"2025-01-14","v":22.3},{"d":"2025-01-16","v":27.1},{"d":"2025-01-18","v":26.0},{"d":"2025-01-22","v":27.8},{"d":"2025-01-25","v":28.6},{"d":"2025-01-27","v":29.3},{"d":"2025-01-31","v":30.8},{"d":"2025-02-04","v":33.0},{"d":"2025-02-07","v":34.8},{"d":"2025-02-10","v":35.2},{"d":"2025-02-13","v":35.6},{"d":"2025-02-16","v":36.1},{"d":"2025-02-18","v":35.2},{"d":"2025-02-20","v":32.6},{"d":"2025-02-22","v":34.1},{"d":"2025-02-25","v":33.7},{"d":"2025-02-28","v":30.4},{"d":"2025-03-01","v":29.3},{"d":"2025-03-04","v":27.5},{"d":"2025-03-07","v":31.5},{"d":"2025-03-09","v":28.2},{"d":"2025-03-12","v":27.5},{"d":"2025-03-15","v":24.9},{"d":"2025-03-18","v":24.2},{"d":"2025-03-21","v":21.2},{"d":"2025-03-26","v":13.8},{"d":"2025-03-28","v":18.3},{"d":"2025-03-31","v":17.5},{"d":"2025-04-02","v":18.3},{"d":"2025-04-05","v":15.3},{"d":"2025-04-08","v":13.1},{"d":"2025-04-10","v":18.3},{"d":"2025-04-13","v":23.1},{"d":"2025-04-16","v":17.5},{"d":"2025-04-20","v":18.6},{"d":"2025-04-23","v":19.4},{"d":"2025-04-26","v":16.1},{"d":"2025-04-29","v":17.5},{"d":"2025-05-02","v":19.7},{"d":"2025-05-06","v":21.6},{"d":"2025-05-09","v":18.3},{"d":"2025-05-13","v":15.3},{"d":"2025-05-17","v":12.4},{"d":"2025-05-21","v":12.0},{"d":"2025-05-25","v":14.6},{"d":"2025-05-29","v":13.8},{"d":"2025-05-31","v":16.1},{"d":"2025-06-04","v":20.1},{"d":"2025-06-07","v":16.8},{"d":"2025-06-10","v":18.3},{"d":"2025-06-14","v":17.2},{"d":"2025-06-18","v":18.3},{"d":"2025-06-22","v":17.9},{"d":"2025-06-26","v":22.3},{"d":"2025-06-29","v":20.1},{"d":"2025-07-02","v":17.5},{"d":"2025-07-05","v":16.4},{"d":"2025-07-09","v":17.2},{"d":"2025-07-13","v":15.3},{"d":"2025-07-17","v":22.3},{"d":"2025-07-20","v":16.1},{"d":"2025-07-23","v":12.0},{"d":"2025-07-25","v":18.3},{"d":"2025-07-28","v":20.1},{"d":"2025-07-31","v":22.3},{"d":"2025-08-03","v":20.5},{"d":"2025-08-07","v":22.7},{"d":"2025-08-10","v":20.1},{"d":"2025-08-13","v":23.4},{"d":"2025-08-16","v":25.6},{"d":"2025-08-19","v":24.9},{"d":"2025-08-22","v":27.8},{"d":"2025-08-24","v":30.1},{"d":"2025-08-27","v":28.6},{"d":"2025-08-29","v":29.3},{"d":"2025-09-01","v":25.3},{"d":"2025-09-03","v":22.0},{"d":"2025-09-07","v":20.5},{"d":"2025-09-11","v":27.1},{"d":"2025-09-14","v":25.6},{"d":"2025-09-17","v":27.8},{"d":"2025-09-21","v":30.1},{"d":"2025-09-24","v":32.3},{"d":"2025-09-27","v":27.8},{"d":"2025-09-30","v":27.5},{"d":"2025-10-03","v":27.8},{"d":"2025-10-07","v":28.2},{"d":"2025-10-10","v":27.8},{"d":"2025-10-13","v":23.4},{"d":"2025-10-15","v":22.7},{"d":"2025-10-17","v":20.8},{"d":"2025-10-19","v":20.5},{"d":"2025-10-22","v":17.9},{"d":"2025-10-24","v":24.2},{"d":"2025-10-27","v":25.6},{"d":"2025-10-29","v":21.2},{"d":"2025-11-01","v":21.6},{"d":"2025-11-04","v":20.1},{"d":"2025-11-07","v":18.6},{"d":"2025-11-10","v":19.7},{"d":"2025-11-13","v":16.8},{"d":"2025-11-17","v":16.4},{"d":"2025-11-19","v":20.8},{"d":"2025-11-22","v":23.4},{"d":"2025-11-25","v":27.1},{"d":"2025-11-27","v":24.5},{"d":"2025-11-30","v":24.8},{"d":"2025-12-04","v":22.7},{"d":"2025-12-08","v":25.3},{"d":"2025-12-11","v":22.0},{"d":"2025-12-14","v":21.9},{"d":"2025-12-17","v":20.8},{"d":"2025-12-19","v":19.4},{"d":"2025-12-22","v":20.8},{"d":"2025-12-25","v":22.7},{"d":"2025-12-27","v":20.1},{"d":"2025-12-30","v":20.5},{"d":"2025-12-31","v":22.3}]
},
"spacing":33,
"align":"none",
"resolve":{"scale":{"x":"independent","y":"independent","color":"independent","fill":"independent","stroke":"independent"},"axis":{"x":"independent","y":"independent"},"legend":{"color":"independent","fill":"independent","stroke":"independent"}},
"vconcat":[
 {"spacing":20,"align":"none","resolve":{"scale":{"x":"independent","y":"independent","color":"independent","fill":"independent","stroke":"independent"},"axis":{"x":"independent","y":"independent"},"legend":{"color":"independent","fill":"independent","stroke":"independent"}},"hconcat":[
  {"spacing":3,"align":"none","resolve":{"scale":{"x":"independent","y":"independent","color":"independent"},"axis":{"x":"independent","y":"independent"},"legend":{"color":"independent"}},"vconcat":[
   {"width":319,"height":17.5,"data":{"values":[{}]},
    "title":{"text":"图 20：国内股债相对走势","anchor":"start","orient":"top","fontSize":15.5,"fontWeight":"bold","offset":-13,"dx":10,"baseline":"bottom"},
    "mark":{"type":"rule","color":"#000000","strokeWidth":1.2},
    "encoding":{"x":{"datum":-44,"type":"quantitative","scale":{"domain":[0,319]},"axis":null},"x2":{"datum":352},"y":{"datum":1,"type":"quantitative","scale":{"domain":[0,1]},"axis":null}}},
   {"width":319,"height":194,
    "layer":[
     {"data":{"values":[{}]},"mark":{"type":"rect","color":"#E6EBF6","opacity":1},
      "encoding":{"x":{"datum":{"year":2025,"month":10,"date":4,"utc":true},"type":"temporal","scale":{"type":"utc","domain":[{"year":2025,"month":5,"date":3,"utc":true},{"year":2025,"month":12,"date":31,"utc":true}]},
        "axis":{"values":[{"year":2025,"month":5,"date":3,"utc":true},{"year":2025,"month":5,"date":25,"utc":true},{"year":2025,"month":6,"date":16,"utc":true},{"year":2025,"month":7,"date":8,"utc":true},{"year":2025,"month":7,"date":30,"utc":true},{"year":2025,"month":8,"date":21,"utc":true},{"year":2025,"month":9,"date":12,"utc":true},{"year":2025,"month":10,"date":4,"utc":true},{"year":2025,"month":10,"date":26,"utc":true},{"year":2025,"month":11,"date":17,"utc":true},{"year":2025,"month":12,"date":9,"utc":true},{"year":2025,"month":12,"date":31,"utc":true}],"tickCount":30,"format":"%Y-%m-%d","labelAngle":-45,"labelOverlap":false,"labelFontSize":9,"tickSize":4,"labelPadding":2,"title":null}},
       "x2":{"datum":{"year":2025,"month":12,"date":31,"utc":true}},
       "y":{"datum":2.465,"type":"quantitative","scale":{"domain":[1.5,2.5],"zero":false,"nice":false},"axis":null},"y2":{"datum":1.5}}},
     {"data":{"name":"p20b"},"mark":{"type":"line","strokeWidth":2.5,"point":{"shape":"square","size":14,"filled":true}},
      "encoding":{"x":{"field":"d","type":"temporal","scale":{"type":"utc"}},
       "y":{"field":"v","type":"quantitative","scale":{"domain":[1.5,2.5],"zero":false,"nice":false},
        "axis":{"orient":"right","values":[1.5,1.6,1.7,1.8,1.9,2.0,2.1,2.2,2.3,2.4,2.5],"tickCount":30,"format":".2f","labelOverlap":false,"domain":false,"ticks":false,"labelPadding":7,"labelFontSize":8.5,"title":"(%)","titleAngle":0,"titleX":-6,"titleY":-25,"titleAlign":"left","titleBaseline":"middle","titleFontSize":9}},
       "color":{"datum":"中国:中债国债到期收益率:10年（右轴）"}}},
     {"data":{"name":"p20a"},"mark":{"type":"line","strokeWidth":1.3},
      "encoding":{"x":{"field":"d","type":"temporal","scale":{"type":"utc"}},
       "y":{"field":"v","type":"quantitative","scale":{"domain":[4200,6610],"zero":false,"nice":false},
        "axis":{"orient":"left","values":[4200,4700,5200,5700,6200],"tickCount":30,"format":",.0f","labelOverlap":false,"domain":false,"ticks":false,"labelPadding":10,"labelFontSize":8.5,"minExtent":44,"title":"(点)","titleAngle":0,"titleX":-4,"titleY":-25,"titleAlign":"left","titleBaseline":"middle","titleFontSize":9}},
       "color":{"datum":"万得全A","scale":{"domain":["万得全A","中国:中债国债到期收益率:10年（右轴）"],"range":["#C00000","#0070C0"]},
        "legend":{"direction":"horizontal","legendX":19,"legendY":-26,"symbolType":"stroke","symbolSize":400,"symbolStrokeWidth":1.5,"labelFontSize":8,"columnPadding":28,"labelOffset":3}}}}
    ],
    "resolve":{"scale":{"y":"independent"}}},
   {"width":319,"height":13,"data":{"values":[{}]},
    "title":{"text":"数据来源：WIND，广发证券发展研究中心","anchor":"start","orient":"bottom","fontSize":13.5,"fontWeight":"normal","offset":6,"dx":8,"baseline":"top","color":"#1a1a1a"},
    "mark":{"type":"rule","color":"#000000","strokeWidth":1.2,"opacity":0},
    "encoding":{"x":{"datum":-44,"type":"quantitative","scale":{"domain":[0,319]},"axis":null},"x2":{"datum":352},"y":{"datum":0,"type":"quantitative","scale":{"domain":[0,1]},"axis":null}}}
  ]},
  {"spacing":3.5,"align":"none","resolve":{"scale":{"x":"independent","y":"independent","color":"independent"},"axis":{"x":"independent","y":"independent"},"legend":{"color":"independent"}},"vconcat":[
   {"width":320,"height":14,"data":{"values":[{}]},
    "title":{"text":"图 21：两市成交额升至日均 2.1 万亿元","anchor":"start","orient":"top","fontSize":15.5,"fontWeight":"bold","offset":-13,"dx":10,"baseline":"bottom"},
    "mark":{"type":"rule","color":"#000000","strokeWidth":1.2},
    "encoding":{"x":{"datum":-52.7,"type":"quantitative","scale":{"domain":[0,320]},"axis":null},"x2":{"datum":343.3},"y":{"datum":1,"type":"quantitative","scale":{"domain":[0,1]},"axis":null}}},
   {"width":320,"height":170,
    "layer":[
     {"data":{"name":"p21b"},"mark":{"type":"line","strokeWidth":1.5},
      "encoding":{"x":{"field":"d","type":"temporal","scale":{"type":"utc","domain":[{"year":2025,"month":1,"date":31,"utc":true},{"year":2025,"month":12,"date":31,"utc":true}]},
        "axis":{"values":[{"year":2025,"month":1,"date":31,"utc":true},{"year":2025,"month":2,"date":28,"utc":true},{"year":2025,"month":3,"date":31,"utc":true},{"year":2025,"month":4,"date":30,"utc":true},{"year":2025,"month":5,"date":31,"utc":true},{"year":2025,"month":6,"date":30,"utc":true},{"year":2025,"month":7,"date":31,"utc":true},{"year":2025,"month":8,"date":31,"utc":true},{"year":2025,"month":9,"date":30,"utc":true},{"year":2025,"month":10,"date":31,"utc":true},{"year":2025,"month":11,"date":30,"utc":true},{"year":2025,"month":12,"date":31,"utc":true}],"tickCount":30,"format":"%Y-%m-%d","labelAngle":-45,"labelOverlap":false,"labelFontSize":10,"tickSize":4,"labelPadding":2,"title":null}},
       "y":{"field":"v","type":"quantitative","scale":{"domain":[0,40000],"nice":false},
        "axis":{"values":[0,5000,10000,15000,20000,25000,30000,35000,40000],"tickCount":30,"format":",.0f","labelOverlap":false,"domain":false,"ticks":false,"labelPadding":12,"labelFontSize":10,"minExtent":52.7,"title":"(亿元)","titleAngle":0,"titleX":-31,"titleY":-25,"titleAlign":"left","titleBaseline":"middle","titleFontSize":10}},
       "color":{"datum":"成交金额:万得全A:亿"}}},
     {"data":{"name":"p21g"},"mark":{"type":"line","strokeWidth":1.5},
      "encoding":{"x":{"field":"d","type":"temporal","scale":{"type":"utc"}},"y":{"field":"v","type":"quantitative"},"color":{"datum":"成交金额:深证成份A股指数"}}},
     {"data":{"name":"p21r"},"mark":{"type":"line","strokeWidth":1.5},
      "encoding":{"x":{"field":"d","type":"temporal","scale":{"type":"utc"}},"y":{"field":"v","type":"quantitative"},
       "color":{"datum":"成交金额:上证A股指数","scale":{"domain":["成交金额:上证A股指数","成交金额:深证成份A股指数","成交金额:万得全A:亿"],"range":["#C00000","#A6A6A6","#4472C4"]},
        "legend":{"direction":"horizontal","columns":2,"legendX":17,"legendY":-35,"symbolType":"stroke","symbolSize":361,"symbolStrokeWidth":2,"labelFontSize":10,"columnPadding":33,"rowPadding":7,"labelOffset":3}}}},
     {"data":{"values":[{}]},"mark":{"type":"point","shape":"M0,-1C0.1296,-1 0.2346,-0.5523 0.2346,0C0.2346,0.5523 0.1296,1 0,1C-0.1296,1 -0.2346,0.5523 -0.2346,0C-0.2346,-0.5523 -0.1296,-1 0,-1Z","size":26244,"filled":false,"stroke":"#C00000","strokeWidth":1,"strokeDash":[4,3],"opacity":1},
      "encoding":{"x":{"datum":{"year":2025,"month":12,"date":19,"utc":true},"type":"temporal"},"y":{"datum":19270,"type":"quantitative"}}}
    ]},
   {"width":320,"height":26.7,"data":{"values":[{}]},
    "title":{"text":"数据来源：WIND，广发证券发展研究中心","anchor":"start","orient":"bottom","fontSize":13.5,"fontWeight":"normal","offset":6,"dx":9,"baseline":"top","color":"#1a1a1a"},
    "mark":{"type":"rule","color":"#000000","strokeWidth":1.2},
    "encoding":{"x":{"datum":-52.7,"type":"quantitative","scale":{"domain":[0,320]},"axis":null},"x2":{"datum":343.3},"y":{"datum":0,"type":"quantitative","scale":{"domain":[0,1]},"axis":null}}}
  ]}
 ]},
 {"spacing":20,"align":"none","resolve":{"scale":{"x":"independent","y":"independent","color":"independent","fill":"independent","stroke":"independent"},"axis":{"x":"independent","y":"independent"},"legend":{"color":"independent","fill":"independent","stroke":"independent"}},"hconcat":[
  {"spacing":0,"align":"none","resolve":{"scale":{"x":"independent","y":"independent","color":"independent"},"axis":{"x":"independent","y":"independent"},"legend":{"color":"independent"}},"vconcat":[
   {"width":309,"height":1.5,"data":{"values":[{}]},
    "title":{"text":"图 22：纳斯达克中国金龙指数元旦假期大幅上涨","anchor":"start","orient":"top","fontSize":15.5,"fontWeight":"bold","offset":-13,"dx":10,"baseline":"bottom"},
    "mark":{"type":"rule","color":"#000000","strokeWidth":1.2},
    "encoding":{"x":{"datum":-43.3,"type":"quantitative","scale":{"domain":[0,309]},"axis":null},"x2":{"datum":358.7},"y":{"datum":1,"type":"quantitative","scale":{"domain":[0,1]},"axis":null}}},
   {"width":309,"height":153,
    "layer":[
     {"data":{"values":[{}]},"mark":{"type":"rule","color":"#A6A6A6","strokeDash":[5,4],"strokeWidth":1.3},
      "encoding":{"x":{"datum":{"year":2025,"month":10,"date":7,"utc":true},"type":"temporal","scale":{"type":"utc","domain":[{"year":2025,"month":6,"date":6,"utc":true},{"year":2026,"month":1,"date":2,"utc":true}]},
        "axis":{"values":[{"year":2025,"month":6,"date":6,"utc":true},{"year":2025,"month":6,"date":27,"utc":true},{"year":2025,"month":7,"date":18,"utc":true},{"year":2025,"month":8,"date":8,"utc":true},{"year":2025,"month":8,"date":29,"utc":true},{"year":2025,"month":9,"date":19,"utc":true},{"year":2025,"month":10,"date":10,"utc":true},{"year":2025,"month":10,"date":31,"utc":true},{"year":2025,"month":11,"date":21,"utc":true},{"year":2025,"month":12,"date":12,"utc":true},{"year":2026,"month":1,"date":2,"utc":true}],"tickCount":30,"format":"%Y/%-m/%-d","labelAngle":-45,"labelOverlap":false,"labelFontSize":11,"tickSize":4,"labelPadding":2,"title":null}},
       "y":{"datum":16430,"type":"quantitative","scale":{"domain":[10000,16000],"zero":false,"nice":false},"axis":null},"y2":{"datum":10000}}},
     {"data":{"name":"p22b"},"mark":{"type":"line","strokeWidth":1.5},
      "encoding":{"x":{"field":"d","type":"temporal","scale":{"type":"utc"}},
       "y":{"field":"v","type":"quantitative","scale":{"domain":[10000,16000],"zero":false,"nice":false},
        "axis":{"orient":"right","values":[10000,11000,12000,13000,14000,15000,16000],"tickCount":30,"format":"d","labelOverlap":false,"domain":false,"ticks":false,"labelPadding":10,"labelFontSize":10,"title":"（点）","titleAngle":0,"titleX":-6,"titleY":-25,"titleAlign":"left","titleBaseline":"middle","titleFontSize":8.5}},
       "color":{"datum":"SGX A50指数期货（右轴）"}}},
     {"data":{"name":"p22r"},"mark":{"type":"line","strokeWidth":1.5},
      "encoding":{"x":{"field":"d","type":"temporal","scale":{"type":"utc"}},
       "y":{"field":"v","type":"quantitative","scale":{"domain":[6000,9000],"zero":false,"nice":false},
        "axis":{"orient":"left","values":[6000,6500,7000,7500,8000,8500,9000],"tickCount":30,"format":"d","labelOverlap":false,"domain":false,"ticks":false,"labelPadding":9,"labelFontSize":10.5,"minExtent":43.3,"title":"（点）","titleAngle":0,"titleX":-18,"titleY":-25,"titleAlign":"left","titleBaseline":"middle","titleFontSize":8.5}},
       "color":{"datum":"纳斯达克中国金龙指数(HXC.GI) HXC.GI","scale":{"domain":["纳斯达克中国金龙指数(HXC.GI) HXC.GI","SGX A50指数期货（右轴）"],"range":["#C00000","#0070C0"]},
        "legend":{"direction":"vertical","legendX":57,"legendY":-50,"symbolType":"stroke","symbolSize":625,"symbolStrokeWidth":2,"labelFontSize":10.5,"rowPadding":-2,"labelOffset":3}}}}
    ],
    "resolve":{"scale":{"y":"independent"}}},
   {"width":309,"height":5.4,"data":{"values":[{}]},
    "title":{"text":"数据来源：WIND，广发证券发展研究中心","anchor":"start","orient":"bottom","fontSize":13.5,"fontWeight":"normal","offset":6,"dx":9,"baseline":"top","color":"#1a1a1a"},
    "mark":{"type":"rule","color":"#000000","strokeWidth":1.2},
    "encoding":{"x":{"datum":-43.3,"type":"quantitative","scale":{"domain":[0,309]},"axis":null},"x2":{"datum":358.7},"y":{"datum":0,"type":"quantitative","scale":{"domain":[0,1]},"axis":null}}}
  ]},
  {"spacing":0,"align":"none","resolve":{"scale":{"x":"independent","y":"independent","color":"independent"},"axis":{"x":"independent","y":"independent"},"legend":{"color":"independent"}},"vconcat":[
   {"width":303,"height":8.5,"data":{"values":[{}]},
    "title":{"text":"图 23：融资买入占比边际回落","anchor":"start","orient":"top","fontSize":15.5,"fontWeight":"bold","offset":-13,"dx":11,"baseline":"bottom"},
    "mark":{"type":"rule","color":"#000000","strokeWidth":1.2},
    "encoding":{"x":{"datum":-43.3,"type":"quantitative","scale":{"domain":[0,303]},"axis":null},"x2":{"datum":343.7},"y":{"datum":1,"type":"quantitative","scale":{"domain":[0,1]},"axis":null}}},
   {"width":303,"height":162,
    "layer":[
     {"data":{"name":"p23b"},"mark":{"type":"line","strokeWidth":1.5},
      "encoding":{"x":{"field":"d","type":"temporal","scale":{"type":"utc","domain":[{"year":2024,"month":12,"date":31,"utc":true},{"year":2025,"month":12,"date":31,"utc":true}]},
        "axis":{"values":[{"year":2024,"month":12,"date":31,"utc":true},{"year":2025,"month":1,"date":31,"utc":true},{"year":2025,"month":2,"date":28,"utc":true},{"year":2025,"month":3,"date":31,"utc":true},{"year":2025,"month":4,"date":30,"utc":true},{"year":2025,"month":5,"date":31,"utc":true},{"year":2025,"month":6,"date":30,"utc":true},{"year":2025,"month":7,"date":31,"utc":true},{"year":2025,"month":8,"date":31,"utc":true},{"year":2025,"month":9,"date":30,"utc":true},{"year":2025,"month":10,"date":31,"utc":true},{"year":2025,"month":11,"date":30,"utc":true},{"year":2025,"month":12,"date":31,"utc":true}],"tickCount":30,"format":"%Y-%m-%d","labelAngle":-45,"labelOverlap":false,"labelFontSize":8.5,"tickSize":4,"labelPadding":2,"title":null}},
       "y":{"field":"v","type":"quantitative","scale":{"domain":[7,13.47],"zero":false,"nice":false},
        "axis":{"orient":"left","values":[7,8,9,10,11,12,13],"tickCount":30,"format":"d","labelOverlap":false,"domain":false,"ticks":false,"labelPadding":9,"labelFontSize":8.5,"minExtent":43.3,"title":"(%)","titleAngle":0,"titleX":-5,"titleY":-18,"titleAlign":"left","titleBaseline":"middle","titleFontSize":9}},
       "color":{"datum":"融资买入占比","scale":{"domain":["融资买入占比","万得全A指数（右轴）"],"range":["#0070C0","#C00000"]},
        "legend":{"direction":"horizontal","legendX":53,"legendY":-35,"symbolType":"stroke","symbolSize":400,"symbolStrokeWidth":2,"labelFontSize":7.5,"columnPadding":49,"labelOffset":3}}}},
     {"data":{"name":"p23r"},"mark":{"type":"line","strokeWidth":1.5},
      "encoding":{"x":{"field":"d","type":"temporal","scale":{"type":"utc"}},
       "y":{"field":"v","type":"quantitative","scale":{"domain":[3500,6500],"zero":false,"nice":false},
        "axis":{"orient":"right","values":[3500,4000,4500,5000,5500,6000,6500],"tickCount":30,"format":",.0f","labelOverlap":false,"domain":false,"ticks":false,"labelPadding":7,"labelFontSize":8.5,"title":"(点)","titleAngle":0,"titleX":-8,"titleY":-21,"titleAlign":"left","titleBaseline":"middle","titleFontSize":9}},
       "color":{"datum":"万得全A指数（右轴）"}}}
    ],
    "resolve":{"scale":{"y":"independent"}}},
   {"width":303,"height":9.1,"data":{"values":[{}]},
    "title":{"text":"数据来源：WIND，广发证券发展研究中心","anchor":"start","orient":"bottom","fontSize":13.5,"fontWeight":"normal","offset":6,"dx":9,"baseline":"top","color":"#1a1a1a"},
    "mark":{"type":"rule","color":"#000000","strokeWidth":1.2},
    "encoding":{"x":{"datum":-43.3,"type":"quantitative","scale":{"domain":[0,303]},"axis":null},"x2":{"datum":343.7},"y":{"datum":0,"type":"quantitative","scale":{"domain":[0,1]},"axis":null}}}
  ]}
 ]},
 {"spacing":21,"align":"none","resolve":{"scale":{"x":"independent","y":"independent","color":"independent","fill":"independent","stroke":"independent"},"axis":{"x":"independent","y":"independent"},"legend":{"color":"independent","fill":"independent","stroke":"independent"}},"hconcat":[
  {"spacing":1,"align":"none","resolve":{"scale":{"x":"independent","y":"independent","color":"independent"},"axis":{"x":"independent","y":"independent"},"legend":{"color":"independent"}},"vconcat":[
   {"width":338,"height":18,"data":{"values":[{}]},
    "title":{"text":"图 24：标普 500 恐贪指数急速下降","anchor":"start","orient":"top","fontSize":15.5,"fontWeight":"bold","offset":-13,"dx":10,"baseline":"bottom"},
    "mark":{"type":"rule","color":"#000000","strokeWidth":1.2},
    "encoding":{"x":{"datum":-35.7,"type":"quantitative","scale":{"domain":[0,338]},"axis":null},"x2":{"datum":358.3},"y":{"datum":1,"type":"quantitative","scale":{"domain":[0,1]},"axis":null}}},
   {"width":338,"height":168,
    "layer":[
     {"layer":[
       {"data":{"values":[{}]},"mark":{"type":"rule","color":"#D9D9D9","strokeWidth":1},
        "encoding":{"y":{"datum":0,"type":"quantitative","scale":{"domain":[-700,500],"nice":false,"zero":false},"axis":null}}},
       {"data":{"values":[{}]},"mark":{"type":"rule","color":"#5B9BD5","strokeWidth":2,"strokeDash":[9,6]},"encoding":{"y":{"datum":260,"type":"quantitative"}}}
     ]},
     {"data":{"name":"p24"},"mark":{"type":"line","strokeWidth":1.6},
      "encoding":{"x":{"field":"d","type":"temporal","scale":{"type":"utc","domain":[{"year":2025,"month":1,"date":5,"utc":true},{"year":2026,"month":1,"date":5,"utc":true}]},
        "axis":{"values":[{"year":2025,"month":1,"date":5,"utc":true},{"year":2025,"month":2,"date":5,"utc":true},{"year":2025,"month":3,"date":5,"utc":true},{"year":2025,"month":4,"date":5,"utc":true},{"year":2025,"month":5,"date":5,"utc":true},{"year":2025,"month":6,"date":5,"utc":true},{"year":2025,"month":7,"date":5,"utc":true},{"year":2025,"month":8,"date":5,"utc":true},{"year":2025,"month":9,"date":5,"utc":true},{"year":2025,"month":10,"date":5,"utc":true},{"year":2025,"month":11,"date":5,"utc":true},{"year":2025,"month":12,"date":5,"utc":true},{"year":2026,"month":1,"date":5,"utc":true}],"tickCount":30,"format":"%Y/%-m/%-d","labelAngle":-90,"labelOverlap":false,"labelFontSize":8.5,"domain":false,"ticks":false,"labelPadding":6,"title":null}},
       "y":{"field":"v","type":"quantitative","scale":{"domain":[-700,500],"nice":false,"zero":false},
        "axis":{"orient":"left","values":[-700,-500,-300,-100,100,300,500],"tickCount":30,"format":"d","labelOverlap":false,"domain":false,"ticks":false,"labelPadding":8,"labelFontSize":9.5,"minExtent":35.7,"title":"（点）","titleAngle":0,"titleX":-14,"titleY":-20,"titleAlign":"left","titleBaseline":"middle","titleFontSize":8}},
       "color":{"datum":"彭博标普500恐惧/贪婪指数","scale":{"domain":["彭博标普500恐惧/贪婪指数"],"range":["#C00000"]},
        "legend":{"direction":"horizontal","legendX":106,"legendY":-35,"symbolType":"stroke","symbolSize":400,"symbolStrokeWidth":2,"labelFontSize":8.8,"labelOffset":3}}}}
    ],
    "resolve":{"scale":{"y":"independent"}}},
   {"width":338,"height":24.8,"data":{"values":[{}]},
    "title":{"text":"数据来源：WIND，广发证券发展研究中心","anchor":"start","orient":"bottom","fontSize":13.5,"fontWeight":"normal","offset":6,"dx":9,"baseline":"top","color":"#1a1a1a"},
    "mark":{"type":"rule","color":"#000000","strokeWidth":1.2},
    "encoding":{"x":{"datum":-35.7,"type":"quantitative","scale":{"domain":[0,338]},"axis":null},"x2":{"datum":358.3},"y":{"datum":0,"type":"quantitative","scale":{"domain":[0,1]},"axis":null}}}
  ]},
  {"spacing":0,"align":"none","resolve":{"scale":{"x":"independent","y":"independent","fill":"independent","stroke":"independent"},"axis":{"x":"independent","y":"independent"},"legend":{"fill":"independent","stroke":"independent"}},"vconcat":[
   {"width":311,"height":12,"data":{"values":[{}]},
    "title":{"text":"图 25：TMT 成交额占比与红利成交额占比之差上升","anchor":"start","orient":"top","fontSize":15.5,"fontWeight":"bold","offset":-13,"dx":10,"baseline":"bottom"},
    "mark":{"type":"rule","color":"#000000","strokeWidth":1.2},
    "encoding":{"x":{"datum":-43,"type":"quantitative","scale":{"domain":[0,311]},"axis":null},"x2":{"datum":351},"y":{"datum":1,"type":"quantitative","scale":{"domain":[0,1]},"axis":null}}},
   {"width":311,"height":181,
    "layer":[
     {"data":{"name":"p25a"},"mark":{"type":"area"},
      "encoding":{"x":{"field":"d","type":"temporal","scale":{"type":"utc","domain":[{"year":2024,"month":12,"date":31,"utc":true},{"year":2025,"month":12,"date":31,"utc":true}]},
        "axis":{"values":[{"year":2024,"month":12,"date":31,"utc":true},{"year":2025,"month":1,"date":31,"utc":true},{"year":2025,"month":2,"date":28,"utc":true},{"year":2025,"month":3,"date":31,"utc":true},{"year":2025,"month":4,"date":30,"utc":true},{"year":2025,"month":5,"date":31,"utc":true},{"year":2025,"month":6,"date":30,"utc":true},{"year":2025,"month":7,"date":31,"utc":true},{"year":2025,"month":8,"date":31,"utc":true},{"year":2025,"month":9,"date":30,"utc":true},{"year":2025,"month":10,"date":31,"utc":true},{"year":2025,"month":11,"date":30,"utc":true},{"year":2025,"month":12,"date":31,"utc":true}],"tickCount":30,"format":"%Y-%m-%d","labelAngle":-45,"labelOverlap":false,"labelFontSize":8.5,"tickSize":4,"labelPadding":2,"title":null}},
       "y":{"field":"v","type":"quantitative","scale":{"domain":[0,10000],"nice":false},
        "axis":{"orient":"left","values":[0,1000,2000,3000,4000,5000,6000,7000,8000,9000,10000],"tickCount":30,"format":",.0f","labelOverlap":false,"domain":false,"ticks":false,"labelPadding":10,"labelFontSize":8,"minExtent":43,"title":"（亿元）","titleAngle":0,"titleX":-25,"titleY":-22,"titleAlign":"left","titleBaseline":"middle","titleFontSize":8}},
       "fill":{"datum":"TMT成交额-红利相关成交额","scale":{"range":["#BFBFBF"]},
        "legend":{"direction":"horizontal","legendX":17,"legendY":-41,"symbolType":"M-1,-0.5H1V0.5H-1Z","symbolSize":400,"symbolStrokeWidth":0,"labelFontSize":7.5,"labelOffset":2}}}},
     {"data":{"name":"p25b"},"mark":{"type":"line","strokeWidth":1.5},
      "encoding":{"x":{"field":"d","type":"temporal","scale":{"type":"utc"}},
       "y":{"field":"v","type":"quantitative","scale":{"domain":[0,40],"nice":false},
        "axis":{"orient":"right","values":[0,5,10,15,20,25,30,35,40],"tickCount":30,"format":".2f","labelOverlap":false,"domain":false,"ticks":false,"labelPadding":7,"labelFontSize":8,"title":"(%)","titleAngle":0,"titleX":-9,"titleY":-14,"titleAlign":"left","titleBaseline":"middle","titleFontSize":9}},
       "stroke":{"datum":"TMT成交额-红利相关成交额占比之差（右轴）","scale":{"range":["#0070C0"]},
        "legend":{"direction":"horizontal","legendX":149,"legendY":-41,"symbolType":"stroke","symbolSize":529,"symbolStrokeWidth":2,"labelFontSize":7.5,"labelOffset":1}}}}
    ],
    "resolve":{"scale":{"y":"independent"}}},
   {"width":311,"height":9.3,"data":{"values":[{}]},
    "title":{"text":"数据来源：WIND，广发证券发展研究中心","anchor":"start","orient":"bottom","fontSize":13.5,"fontWeight":"normal","offset":6,"dx":9,"baseline":"top","color":"#1a1a1a"},
    "mark":{"type":"rule","color":"#000000","strokeWidth":1.2},
    "encoding":{"x":{"datum":-43,"type":"quantitative","scale":{"domain":[0,311]},"axis":null},"x2":{"datum":351},"y":{"datum":0,"type":"quantitative","scale":{"domain":[0,1]},"axis":null}}}
  ]}
 ]}
]
}
